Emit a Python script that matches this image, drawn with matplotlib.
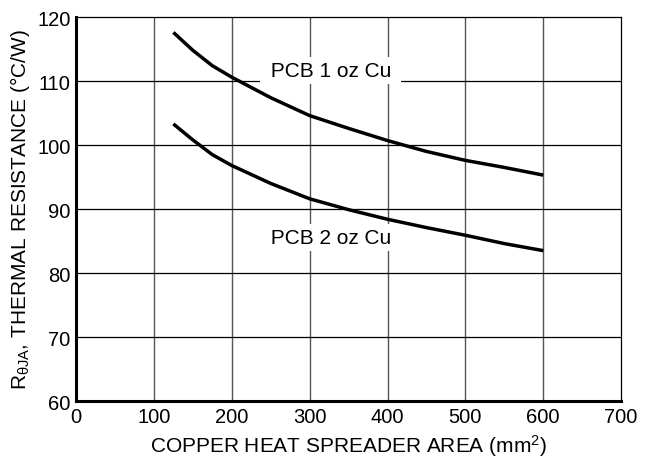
import matplotlib
matplotlib.use("Agg")
import matplotlib.pyplot as plt

plt.rcParams['font.family'] = ['Liberation Sans', 'DejaVu Sans']
plt.rcParams['mathtext.fontset'] = 'custom'
plt.rcParams['mathtext.rm'] = 'Liberation Sans'
plt.rcParams['mathtext.it'] = 'Liberation Sans'

# curve data
area = [125, 150, 175, 200, 250, 300, 350, 400, 450, 500, 550, 600]
r_1oz = [117.6, 114.8, 112.4, 110.6, 107.4, 104.6, 102.6, 100.7, 99.0, 97.6, 96.5, 95.3]
r_2oz = [103.3, 100.8, 98.5, 96.8, 94.0, 91.6, 89.9, 88.4, 87.1, 85.9, 84.6, 83.5]

xticks = [0, 100, 200, 300, 400, 500, 600, 700]
yticks = [60, 70, 80, 90, 100, 110, 120]

fig = plt.figure(figsize=(6.47, 4.64), dpi=100)
ax = fig.add_axes([0.1175, 0.1336, 0.8425, 0.8275])

for x in xticks[1:-1]:
    ax.axvline(x, color='#555555', lw=1.0, zorder=1)
for y in yticks[1:-1]:
    ax.axhline(y, color='black', lw=0.9, zorder=1)

ax.plot(area, r_1oz, color='black', lw=2.5, solid_capstyle='butt', zorder=3)
ax.plot(area, r_2oz, color='black', lw=2.5, solid_capstyle='butt', zorder=3)

box = dict(facecolor='white', edgecolor='none', pad=3)
ax.text(327, 111.6, ' PCB 1 oz Cu ', fontsize=15, ha='center', va='center', bbox=box, zorder=2)
ax.text(327, 85.5, ' PCB 2 oz Cu ', fontsize=15, ha='center', va='center', bbox=box, zorder=2)

ax.set_xlim(0, 700)
ax.set_ylim(60, 120)
ax.set_xticks(xticks)
ax.set_yticks(yticks)
ax.tick_params(length=0, labelsize=14.5, pad=4)

ax.spines['left'].set_linewidth(2.2)
ax.spines['bottom'].set_linewidth(2.2)
ax.spines['top'].set_linewidth(0.9)
ax.spines['right'].set_linewidth(0.9)

ax.set_xlabel('COPPER HEAT SPREADER AREA (mm$^{2}$)', fontsize=15, labelpad=5)
ax.set_ylabel(r'R$_{\theta\mathrm{JA}}$, THERMAL RESISTANCE ($\degree$C/W)', fontsize=15, labelpad=4)

fig.savefig('out.png', dpi=100)
